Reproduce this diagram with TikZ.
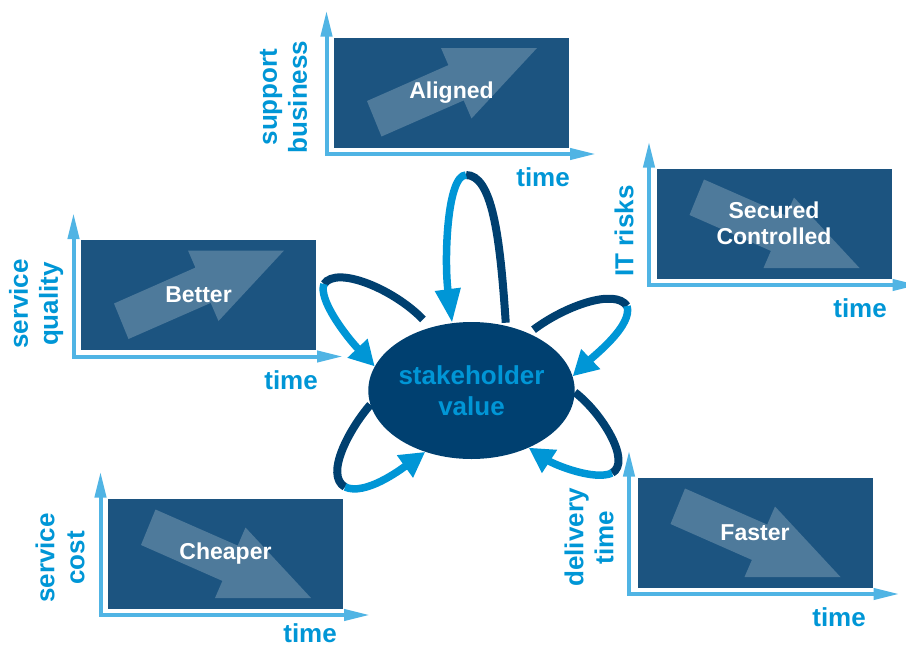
\documentclass[tikz,border=0pt]{standalone}
\usepackage{fontspec}
\setmainfont{Liberation Sans}
\usetikzlibrary{shapes.geometric,arrows.meta}
\definecolor{boxblue}{HTML}{1C5480}
\definecolor{arrowblue}{HTML}{4E7A9B}
\definecolor{axisblue}{HTML}{50B4E4}
\definecolor{textblue}{HTML}{0096D6}
\definecolor{navy}{HTML}{004070}
\definecolor{looplight}{HTML}{0096D6}
\begin{document}
\begin{tikzpicture}[x=1pt,y=-1pt,
  panelbox/.style={draw=none, fill=boxblue, minimum width=235pt, minimum height=110pt, inner sep=0pt, outer sep=0pt},
  paneltext/.style={text=white, font=\bfseries\fontsize{23}{26}\selectfont, align=center, inner sep=0pt},
  axislabel/.style={text=textblue, font=\bfseries\fontsize{26}{30}\selectfont, align=center, rotate=90, inner sep=0pt},
  timelabel/.style={text=textblue, font=\bfseries\fontsize{26}{30}\selectfont, anchor=east, inner sep=0pt},
  axisline/.style={draw=axisblue, line width=4pt, line join=miter, {Triangle[length=26pt,width=11pt]}-{Triangle[length=26pt,width=11pt]}},
  darkloop/.style={draw=navy, line width=8pt},
  lightloop/.style={draw=looplight, line width=7.5pt, -{Triangle[length=25pt,width=26pt]}},
  longtip/.style={-{Triangle[length=34pt,width=24pt]}},
  uparr/.pic={\fill[arrowblue] (47.5,-11) -- (129.7,-47.1) -- (137.5,-29) -- (203,-99.5) -- (107,-99.5) -- (114.4,-82.4) -- (33,-46.5) -- cycle;},
  downarr/.pic={\fill[arrowblue] (47.5,-99) -- (129.7,-62.9) -- (137.5,-81) -- (203,-10.5) -- (107,-10.5) -- (114.4,-27.6) -- (33,-63.5) -- cycle;}
]
\useasboundingbox (0,0) rectangle (906,646);

% ---------- Aligned ----------
\node[panelbox] (alignedbox) at (451.5,92.5) {};
\pic at (alignedbox.south west) {uparr};
\node[paneltext] (alignedtxt) at (alignedbox.center) {Aligned};
\coordinate (alignedcorner) at (326.5,154);
\coordinate (alignedvtip) at (326.5,10.5);
\coordinate (alignedhtip) at (596,154);
\draw[axisline] (alignedvtip) -- (alignedcorner) -- (alignedhtip);
\node[axislabel] (alignedlab) at (283.5,97) {support\\business};
\node[timelabel] (alignedtime) at (570,177) {time};

% ---------- Better ----------
\node[panelbox] (betterbox) at (198.5,295) {};
\pic at (betterbox.south west) {uparr};
\node[paneltext] (bettertxt) at (betterbox.center) {Better};
\coordinate (bettercorner) at (73.5,356.5);
\coordinate (bettervtip) at (73.5,213);
\coordinate (betterhtip) at (343,356.5);
\draw[axisline] (bettervtip) -- (bettercorner) -- (betterhtip);
\node[axislabel] (betterlab) at (36.2,304) {service\\quality};
\node[timelabel] (bettertime) at (318,380) {time};

% ---------- Secured ----------
\node[panelbox] (securedbox) at (774,223.5) {};
\pic at (securedbox.south west) {downarr};
\node[paneltext] (securedtxt) at (securedbox.center) {Secured\\Controlled};
\coordinate (securedcorner) at (649,285);
\coordinate (securedvtip) at (649,141.5);
\coordinate (securedhtip) at (918.5,285);
\draw[axisline] (securedvtip) -- (securedcorner) -- (securedhtip);
\node[axislabel] (securedlab) at (624,231) {IT risks};
\node[timelabel] (securedtime) at (887,308) {time};

% ---------- Cheaper ----------
\node[panelbox] (cheaperbox) at (225.5,553.5) {};
\pic at (cheaperbox.south west) {downarr};
\node[paneltext] (cheapertxt) at (cheaperbox.center) {Cheaper};
\coordinate (cheapercorner) at (100.5,615);
\coordinate (cheapervtip) at (100.5,471.5);
\coordinate (cheaperhtip) at (370,615);
\draw[axisline] (cheapervtip) -- (cheapercorner) -- (cheaperhtip);
\node[axislabel] (cheaperlab) at (60,558) {service\\cost};
\node[timelabel] (cheapertime) at (337,633) {time};

% ---------- Faster ----------
\node[panelbox] (fasterbox) at (755,532.5) {};
\pic at (fasterbox.south west) {downarr};
\node[paneltext] (fastertxt) at (fasterbox.center) {Faster};
\coordinate (fastercorner) at (629,594);
\coordinate (fastervtip) at (629,450.5);
\coordinate (fasterhtip) at (899.5,594);
\draw[axisline] (fastervtip) -- (fastercorner) -- (fasterhtip);
\node[axislabel] (fasterlab) at (589,537.5) {delivery\\time};
\node[timelabel] (fastertime) at (866,617) {time};

% ---------- centre ----------
\node[ellipse, fill=navy, minimum width=185pt, minimum height=137pt, inner sep=0pt,
      text=textblue, font=\bfseries\fontsize{26}{31}\selectfont, align=center] (sv) at (471.5,390.5) {stakeholder\\value};

% top loop
\coordinate (topapex) at (466,175);
\draw[darkloop, shorten <=3pt] (sv.62) .. controls (500,235) and (492,175) .. (topapex);
\draw[lightloop, longtip] (topapex) .. controls (447,175) and (444,260) .. (sv.106);
% upper-left loop
\coordinate (ulapex) at (324,284);
\draw[darkloop, shorten <=11pt] (sv.123) .. controls (395,290) and (337,265) .. (ulapex);
\draw[lightloop] (ulapex) .. controls (318,299) and (345,335) .. (sv.166);
% upper-right loop
\coordinate (urapex) at (627,306);
\draw[darkloop, shorten <=6pt] (sv.45) .. controls (565,306) and (615,288) .. (urapex);
\draw[lightloop] (urapex) .. controls (633,325) and (595,355) .. (sv.8);
% lower-left loop
\coordinate (llapex) at (345,487);
\draw[darkloop] (sv.188) .. controls (350,428) and (324,475) .. (llapex);
\draw[lightloop] (llapex) .. controls (365,496) and (400,470) .. (sv.233);
% lower-right loop
\coordinate (lrapex) at (612,473);
\draw[darkloop] (sv.-1) .. controls (602,413) and (632,462) .. (lrapex);
\draw[lightloop] (lrapex) .. controls (595,481) and (555,465) .. (sv.-45);
\end{tikzpicture}
\end{document}
